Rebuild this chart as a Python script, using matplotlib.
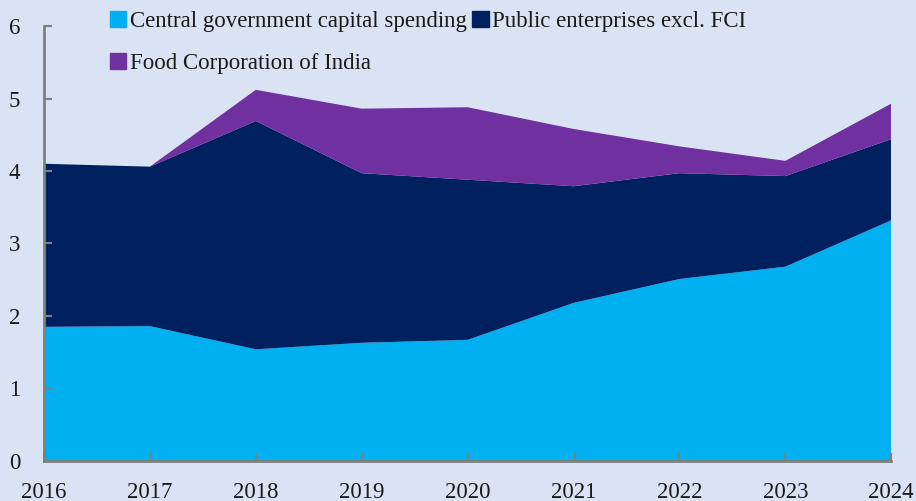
import matplotlib
matplotlib.use("Agg")
import matplotlib.pyplot as plt
from matplotlib.patches import Patch

years = [2016, 2017, 2018, 2019, 2020, 2021, 2022, 2023, 2024]
central_gov = [1.85, 1.86, 1.54, 1.63, 1.67, 2.18, 2.51, 2.68, 3.32]
public_ent = [2.25, 2.20, 3.15, 2.34, 2.21, 1.61, 1.46, 1.25, 1.12]
fci = [0.00, 0.00, 0.43, 0.89, 1.00, 0.79, 0.37, 0.21, 0.49]

labels = ["Central government capital spending",
          "Public enterprises excl. FCI",
          "Food Corporation of India"]
colors = ["#00b0f0", "#002060", "#7030a0"]
bg = "#dae3f3"

plt.rcParams["font.family"] = ["Liberation Serif", "DejaVu Serif"]

fig = plt.figure(figsize=(9.16, 5.01), dpi=100, facecolor=bg)
ax = fig.add_axes([0.048, 0.080, 0.925, 0.868], facecolor=bg)

ax.stackplot(years, central_gov, public_ent, fci, colors=colors, linewidth=0)

ax.set_xlim(2016, 2024)
ax.set_ylim(0, 6)
ax.set_xticks(years)
ax.set_yticks(range(0, 7))

for side in ["top", "right"]:
    ax.spines[side].set_visible(False)
for side in ["left", "bottom"]:
    ax.spines[side].set_color("#7f7f7f")
    ax.spines[side].set_linewidth(2)

ax.tick_params(axis="both", direction="in", length=6, width=1.5, color="#7f7f7f",
               labelsize=16.5, labelcolor="#1a1a1a")
ax.tick_params(axis="x", pad=15)
ax.tick_params(axis="y", pad=17)

handles = [Patch(color=colors[0], label=labels[0]),
           Patch(color=colors[2], label=labels[2]),
           Patch(color=colors[1], label=labels[1])]
fig.legend(handles=handles, loc="upper left", bbox_to_anchor=(0.098, 1.02), ncol=2,
           frameon=False, fontsize=16.5, handlelength=0.7, handleheight=0.7,
           handletextpad=0.15, columnspacing=0.25, labelspacing=0.95,
           labelcolor="#1a1a1a")

fig.savefig("out.png", dpi=100, facecolor=bg)
